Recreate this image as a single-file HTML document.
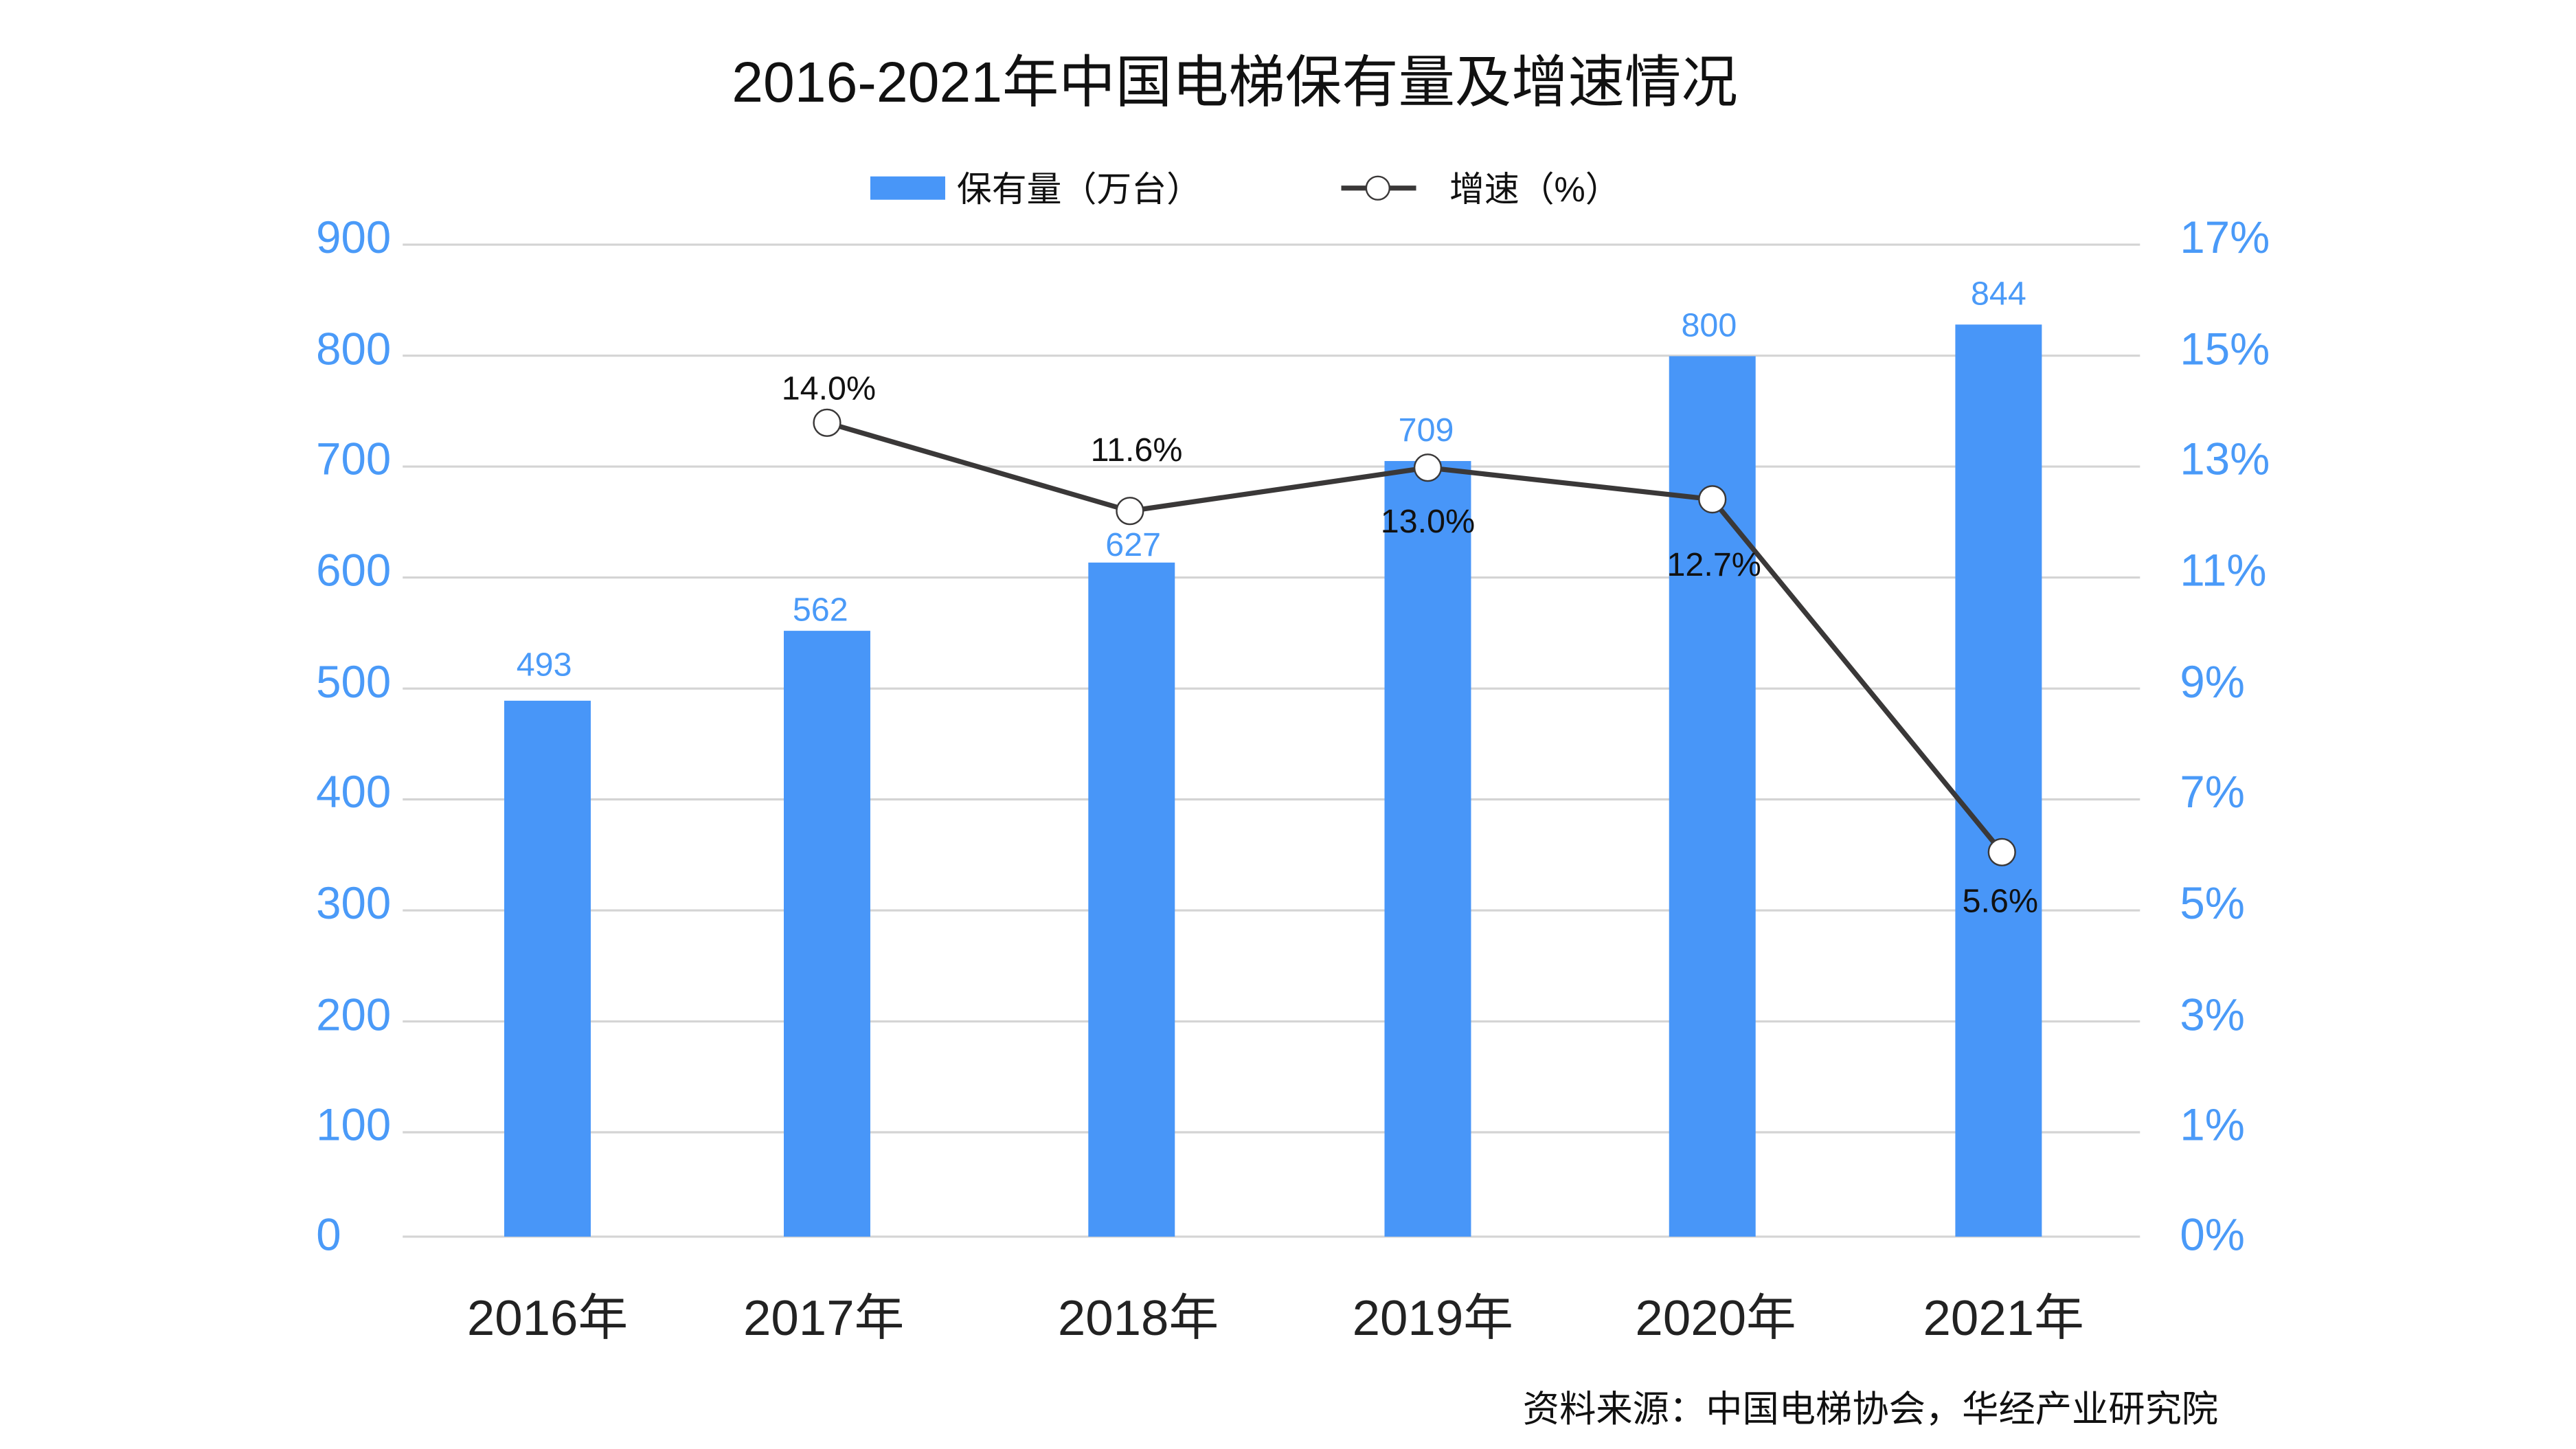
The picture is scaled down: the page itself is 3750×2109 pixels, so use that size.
<!DOCTYPE html>
<html><head><meta charset="utf-8"><style>
html,body{margin:0;padding:0;background:#fff;}
svg{display:block;}
text{font-family:"Liberation Sans","Noto Sans CJK SC",sans-serif;}
</style></head><body>
<svg width="3750" height="2109" viewBox="0 0 1548 870.6" xmlns="http://www.w3.org/2000/svg">
<rect width="1548" height="871" fill="#fff"/>
<text x="742" y="61" font-size="34" text-anchor="middle" fill="#111">2016-2021年中国电梯保有量及增速情况</text>
<rect x="523" y="106" width="45" height="14" fill="#4896F8"/>
<text x="575" y="121" font-size="21" fill="#111">保有量（万台）</text>
<line x1="806" y1="113" x2="851" y2="113" stroke="#3a3838" stroke-width="3"/>
<circle cx="828" cy="113" r="7" fill="#fff" stroke="#3a3838" stroke-width="1"/>
<text x="871" y="121" font-size="21" fill="#111">增速（%）</text>
<g stroke="#d4d4d4" stroke-width="1.3">
<line x1="242" y1="147" x2="1286" y2="147"/><line x1="242" y1="213.7" x2="1286" y2="213.7"/>
<line x1="242" y1="280.3" x2="1286" y2="280.3"/><line x1="242" y1="347" x2="1286" y2="347"/>
<line x1="242" y1="413.7" x2="1286" y2="413.7"/><line x1="242" y1="480.3" x2="1286" y2="480.3"/>
<line x1="242" y1="547" x2="1286" y2="547"/><line x1="242" y1="613.7" x2="1286" y2="613.7"/>
<line x1="242" y1="680.3" x2="1286" y2="680.3"/><line x1="242" y1="743" x2="1286" y2="743"/>
</g>
<g font-size="27" fill="#4a9af8" text-anchor="end">
<text x="235" y="152">900</text><text x="235" y="219">800</text><text x="235" y="285">700</text>
<text x="235" y="352">600</text><text x="235" y="419">500</text><text x="235" y="485">400</text>
<text x="235" y="552">300</text><text x="235" y="619">200</text><text x="235" y="685">100</text>
<text x="205" y="751">0</text>
</g>
<g font-size="27" fill="#4a9af8">
<text x="1310" y="152">17%</text><text x="1310" y="219">15%</text><text x="1310" y="285">13%</text>
<text x="1310" y="352">11%</text><text x="1310" y="419">9%</text><text x="1310" y="485">7%</text>
<text x="1310" y="552">5%</text><text x="1310" y="619">3%</text><text x="1310" y="685">1%</text>
<text x="1310" y="751">0%</text>
</g>
<g fill="#4896F8">
<rect x="303" y="421" width="52" height="322"/>
<rect x="471" y="379" width="52" height="364"/>
<rect x="654" y="338" width="52" height="405"/>
<rect x="832" y="277" width="52" height="466"/>
<rect x="1003" y="214" width="52" height="529"/>
<rect x="1175" y="195" width="52" height="548"/>
</g>
<g font-size="20" fill="#4a9af8" text-anchor="middle">
<text x="327" y="406">493</text><text x="493" y="373">562</text><text x="681" y="334">627</text>
<text x="857" y="265">709</text><text x="1027" y="202">800</text><text x="1201" y="183">844</text>
</g>
<polyline points="497,254 679,307 858,281 1029,300 1203,512" fill="none" stroke="#3a3838" stroke-width="3"/>
<g fill="#fff" stroke="#3a3838" stroke-width="1">
<circle cx="497" cy="254" r="8"/><circle cx="679" cy="307" r="8"/><circle cx="858" cy="281" r="8"/>
<circle cx="1029" cy="300" r="8"/><circle cx="1203" cy="512" r="8"/>
</g>
<g font-size="20" fill="#111" text-anchor="middle">
<text x="498" y="240">14.0%</text><text x="683" y="277">11.6%</text><text x="858" y="320">13.0%</text>
<text x="1030" y="346">12.7%</text><text x="1202" y="548">5.6%</text>
</g>
<g font-size="30" fill="#222" text-anchor="middle">
<text x="329" y="802">2016年</text><text x="495" y="802">2017年</text><text x="684" y="802">2018年</text>
<text x="861" y="802">2019年</text><text x="1031" y="802">2020年</text><text x="1204" y="802">2021年</text>
</g>
<text x="1333" y="854" font-size="22" fill="#111" text-anchor="end">资料来源：中国电梯协会，华经产业研究院</text>
</svg>
</body></html>
